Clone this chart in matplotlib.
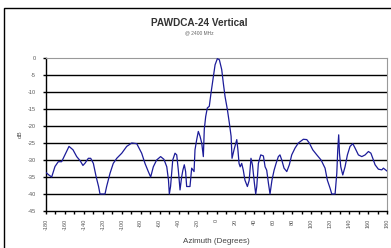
import numpy as np
import matplotlib
matplotlib.use("Agg")
import matplotlib.pyplot as plt
from matplotlib.patches import Rectangle

plt.rcParams['font.family'] = ['Liberation Sans', 'DejaVu Sans']

# azimuth (deg) and gain (dB)
azimuth = [-180, -177, -174, -170.5, -167, -163.5, -160, -155.7, -151.5, -147.6,
           -144, -141, -138.7, -135.3, -132.8, -130, -127, -124.5, -123, -117.7,
           -116, -112.4, -109, -105.3, -100, -94.8, -89.5, -84.2, -79, -75.5,
           -72, -69.5, -66.7, -63.2, -59, -55.5, -52.5, -50.7, -49.8, -48.5,
           -46.2, -43.8, -42, -40.3, -38.5, -36.8, -35.5, -34, -32.6, -31.5,
           -28, -26.2, -23.7, -22.7, -20.9, -19.2, -17.4, -15.6, -13.9, -12.9,
           -11.4, -9.7, -7.6, -5.8, -3.3, -1.5, 0.9, 3, 5.5, 7.2,
           9, 11.5, 13.6, 15.4, 16.4, 18.5, 21.4, 22.6, 23.8, 25,
           26.6, 28.3, 30, 32.6, 34.5, 36.4, 38, 40, 41.4, 42.5,
           44.2, 46.7, 49.5, 51.3, 53, 54.8, 56.5, 58.5, 60.8, 62.9,
           65.3, 67, 68.9, 71.3, 74.2, 76.9, 79.4, 82.9, 86.4, 91.7,
           95.3, 98, 101.6, 105.9, 110.4, 114.6, 117, 119.9, 121.7, 125.2,
           127, 128, 129, 129.8, 131.2, 133.3, 135.7, 138.2, 141, 143.9,
           146.3, 149.8, 153.4, 156.9, 160.4, 163, 165, 167.4, 170.9, 174.5,
           176.2, 179.8]
gain_db = [-33.7, -34.4, -35, -31.9, -30.5, -30.5, -28.5, -26, -27, -29,
           -30.2, -31.6, -30.9, -29.5, -29.5, -31, -35, -37.8, -40, -40,
           -37.8, -33.9, -31, -29.5, -28, -26, -25, -25.2, -28, -31,
           -33.4, -35, -32, -30, -29, -29.8, -32, -35.9, -40, -37.8,
           -30, -28, -28.5, -33, -38.8, -35, -33, -31.4, -33.4, -37.8,
           -37.8, -32.4, -33.4, -27, -24, -21.6, -23, -25, -29, -21,
           -17.2, -14.7, -14.2, -10.3, -5.4, -2, -0.2, -0.5, -3.4, -7.4,
           -11.3, -15.2, -19.2, -23, -29.5, -27, -24, -27, -31, -32,
           -31, -33, -35.9, -37.8, -36, -29.5, -31.5, -36.8, -40, -37.8,
           -31, -28.5, -28.8, -32, -33, -36.8, -40, -36, -33, -31,
           -29, -28.5, -30, -32.4, -33.4, -31.4, -28.5, -26.5, -25, -23.9,
           -24, -25, -27, -28.5, -30, -32.4, -35.9, -38.3, -40, -40,
           -33.9, -27, -22.6, -28, -32, -34.4, -32, -28.5, -26, -25.2,
           -26.5, -28.5, -29, -28.5, -27.5, -28, -29.5, -31.4, -32.7, -32.9,
           -32.4, -33.2]

x_ticks = list(range(-180, 181, 20))
y_ticks = list(range(0, -46, -5))

fig = plt.figure(figsize=(3.91, 2.48), dpi=100)
fig.patch.set_facecolor('white')

# outer chart border (runs off the bottom/right edge in the reference)
fig.patches.append(Rectangle((4 / 391, -0.1), 1.2, 0.1 + 1 - 8 / 248,
                             transform=fig.transFigure, fill=False,
                             edgecolor='black', linewidth=1.0, zorder=0))

ax = fig.add_axes([46 / 391, 37 / 248, (387 - 46) / 391, (211 - 58) / 248])
ax.set_xlim(-180, 180)
ax.set_ylim(-45, 0)

for y in y_ticks[1:-1]:
    ax.axhline(y, color='black', linewidth=1.0, zorder=1)

ax.plot(azimuth, gain_db, color='#1c1c99', linewidth=0.9, zorder=3)

ax.set_xticks(x_ticks)
ax.set_xticklabels([str(v) for v in x_ticks], rotation=90, fontsize=4, color='#555555')
ax.set_xticks(list(range(-170, 180, 20)), minor=True)
ax.set_yticks(y_ticks)
ax.set_yticklabels([str(v) for v in y_ticks], fontsize=4, color='#555555')
ax.tick_params(axis='x', which='both', direction='out', length=2.5, width=1, pad=3)
ax.tick_params(axis='y', direction='out', length=2.5, width=1, pad=5)

for side in ['top', 'right']:
    ax.spines[side].set_color('#999999')
    ax.spines[side].set_linewidth(0.8)
for side in ['left', 'bottom']:
    ax.spines[side].set_color('black')
    ax.spines[side].set_linewidth(1.0)

ax.set_ylabel('dB', fontsize=4.5, color='#555555', labelpad=3)
ax.set_xlabel('Azimuth (Degrees)', fontsize=5.8, color='#444444', labelpad=6)

fig.text(0.51, 1 - 23 / 248, 'PAWDCA-24 Vertical', ha='center', va='center',
         fontsize=7.2, fontweight='bold', color='#333333')
fig.text(0.51, 1 - 33 / 248, '@ 2400 MHz', ha='center', va='center',
         fontsize=3.5, color='#666666')

fig.savefig('out.png', dpi=100)
